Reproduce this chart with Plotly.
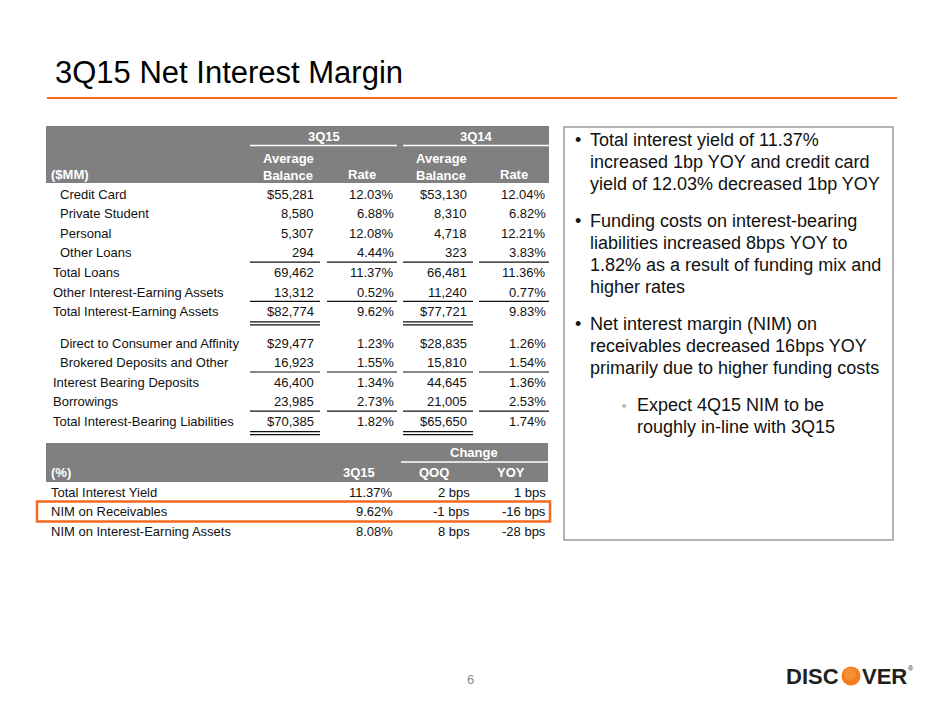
import plotly.graph_objects as go

FONT = "Liberation Sans, Arial, Helvetica, sans-serif"
ORANGE = "#f46a1f"
HEAD_GRAY = "#808080"
INK = "#111111"

title = "3Q15 Net Interest Margin"
page_no = "6"

# interest-earning assets ($MM, %)
asset_labels = ["Credit Card", "Private Student", "Personal", "Other Loans",
                "Total Loans", "Other Interest-Earning Assets",
                "Total Interest-Earning Assets"]
asset_indent = [True, True, True, True, False, False, False]
asset_bal_3q15 = [55281, 8580, 5307, 294, 69462, 13312, 82774]
asset_rate_3q15 = [12.03, 6.88, 12.08, 4.44, 11.37, 0.52, 9.62]
asset_bal_3q14 = [53130, 8310, 4718, 323, 66481, 11240, 77721]
asset_rate_3q14 = [12.04, 6.82, 12.21, 3.83, 11.36, 0.77, 9.83]
asset_dollar = [True, False, False, False, False, False, True]

# interest-bearing liabilities ($MM, %)
liab_labels = ["Direct to Consumer and Affinity", "Brokered Deposits and Other",
               "Interest Bearing Deposits", "Borrowings",
               "Total Interest-Bearing Liabilities"]
liab_indent = [True, True, False, False, False]
liab_bal_3q15 = [29477, 16923, 46400, 23985, 70385]
liab_rate_3q15 = [1.23, 1.55, 1.34, 2.73, 1.82]
liab_bal_3q14 = [28835, 15810, 44645, 21005, 65650]
liab_rate_3q14 = [1.26, 1.54, 1.36, 2.53, 1.74]
liab_dollar = [True, False, False, False, True]

# margin table (%, bps)
margin_labels = ["Total Interest Yield", "NIM on Receivables",
                 "NIM on Interest-Earning Assets"]
margin_3q15 = [11.37, 9.62, 8.08]
margin_qoq = [2, -1, 8]
margin_yoy = [1, -16, -28]
highlight_row = 1

periods = ["3Q15", "3Q14"]
sub_heads = ["Average<br>Balance", "Rate", "Average<br>Balance", "Rate"]
margin_heads = ["3Q15", "QOQ", "YOY"]

bullets = [
    ["Total interest yield of 11.37%", "increased 1bp YOY and credit card",
     "yield of 12.03% decreased 1bp YOY"],
    ["Funding costs on interest-bearing", "liabilities increased 8bps YOY to",
     "1.82% as a result of funding mix and", "higher rates"],
    ["Net interest margin (NIM) on", "receivables decreased 16bps YOY",
     "primarily due to higher funding costs"],
]
sub_bullet = ["Expect 4Q15 NIM to be", "roughly in-line with 3Q15"]

# ---- layout geometry (pixels) ----
TBL_L, TBL_R = 46, 549
cols = [(250, 320, 316), (327, 397, 396), (403, 473, 469), (479, 549, 548)]
ROW = 19.6
asset_y0 = 194
liab_y0 = 343

ann = []
shapes = []


def txt(x, y, s, size=13, color=INK, xanchor="left", bold=False, align="left"):
    if bold:
        s = "<b>" + s + "</b>"
    ann.append(dict(x=x, y=y, xref="x", yref="y", text=s, showarrow=False,
                    xanchor=xanchor, yanchor="middle", align=align,
                    font=dict(family=FONT, size=size, color=color)))


def hline(x0, x1, y, color=INK, w=1.2):
    shapes.append(dict(type="line", xref="x", yref="y", x0=x0, x1=x1, y0=y, y1=y,
                       line=dict(color=color, width=w)))


def rect(x0, y0, x1, y1, fill=None, line=None, w=0):
    shapes.append(dict(type="rect", xref="x", yref="y", x0=x0, x1=x1, y0=y0, y1=y1,
                       fillcolor=fill or "rgba(0,0,0,0)",
                       line=dict(color=line or "rgba(0,0,0,0)", width=w), layer="below"))


def money(v, dollar):
    return ("$" if dollar else "") + f"{v:,}"


# title and rule
txt(53, 72, title, size=31, color="#000000")
hline(47, 897, 98, color=ORANGE, w=2)

# header of balance table
rect(TBL_L, 126, TBL_R, 183, fill=HEAD_GRAY)
for i, p in enumerate(periods):
    a, b = cols[2 * i][0], cols[2 * i + 1][1]
    txt((a + b) / 2, 136, p, color="white", xanchor="center", bold=True)
    hline(a, b, 145.5, color="white", w=1.5)
txt(49, 174, "($MM)", color="white", bold=True)
for c, h in zip(cols, sub_heads):
    if "<br>" in h:
        txt(c[0] + 11, 167, h, color="white", bold=True)
    else:
        txt((c[0] + c[1]) / 2, 174, h, color="white", xanchor="center", bold=True)


def section(y0, labels, indent, b15, r15, b14, r14, dollar, singles, double):
    for i, lab in enumerate(labels):
        y = y0 + i * ROW
        txt(58 if indent[i] else 51, y, lab)
        vals = [money(b15[i], dollar[i]), f"{r15[i]:.2f}%",
                money(b14[i], dollar[i]), f"{r14[i]:.2f}%"]
        for c, v in zip(cols, vals):
            txt(c[2], y, v, xanchor="right")
    for i in singles:
        for c in cols:
            hline(c[0], c[1], y0 + i * ROW + 9.4)
    for c in (cols[0], cols[2]):
        hline(c[0], c[1], y0 + double * ROW + 10.2)
        hline(c[0], c[1], y0 + double * ROW + 13.2)


section(asset_y0, asset_labels, asset_indent, asset_bal_3q15, asset_rate_3q15,
        asset_bal_3q14, asset_rate_3q14, asset_dollar, [3, 5], 6)
section(liab_y0, liab_labels, liab_indent, liab_bal_3q15, liab_rate_3q15,
        liab_bal_3q14, liab_rate_3q14, liab_dollar, [1, 3], 4)

# margin table
rect(TBL_L, 443, 548, 482, fill=HEAD_GRAY)
txt(474, 452.5, "Change", color="white", xanchor="center", bold=True)
hline(401, 548, 462, color="white", w=1.5)
txt(49, 472, "(%)", color="white", bold=True)
mcols = [(327, 395), (401, 471.5), (478, 548)]
for (a, r), h in zip(mcols, margin_heads):
    txt((a + r) / 2 - 2, 472, h, color="white", xanchor="center", bold=True)
m_y0 = 492
for i, lab in enumerate(margin_labels):
    y = m_y0 + i * ROW
    txt(49, y, lab)
    vals = [f"{margin_3q15[i]:.2f}%", f"{margin_qoq[i]} bps", f"{margin_yoy[i]} bps"]
    for (a, r), v in zip(mcols, vals):
        txt(r, y, v, xanchor="right")
hy = m_y0 + highlight_row * ROW
shapes.append(dict(type="rect", xref="x", yref="y", x0=37, x1=550, y0=hy - 10, y1=hy + 10,
                   line=dict(color=ORANGE, width=2.5), fillcolor="rgba(0,0,0,0)"))

# commentary box
rect(564, 127, 893, 540, line="#9a9a9a", w=1.5)
y = 140
for para in bullets:
    txt(573, y, "•", size=18)
    for line in para:
        txt(588, y, line, size=18)
        y += 22
    y += 15
txt(620, y, "◦", size=13)
for line in sub_bullet:
    txt(635, y, line, size=18)
    y += 22

# footer
txt(470, 679, page_no, size=13, color="#8c8c8c", xanchor="center")
txt(841, 676, "<b>DISC</b>", size=22, color="#231f20", xanchor="right")
shapes.append(dict(type="circle", xref="x", yref="y", x0=841.5, x1=860.5, y0=666.5, y1=685.5,
                   fillcolor="#f47b20", line=dict(width=0)))
shapes.append(dict(type="circle", xref="x", yref="y", x0=844, x1=856, y0=668, y1=680,
                   fillcolor="#f9a03c", line=dict(width=0), opacity=0.6))
txt(860, 676, "<b>VER</b>", size=22, color="#231f20")
txt(906, 668, "®", size=7, color="#231f20")

fig = go.Figure()
fig.add_trace(go.Scatter(x=[0, 940], y=[0, 705], mode="markers",
                         marker=dict(opacity=0), hoverinfo="skip", showlegend=False))
fig.update_layout(
    width=940, height=705, margin=dict(l=0, r=0, t=0, b=0),
    paper_bgcolor="white", plot_bgcolor="white",
    xaxis=dict(range=[0, 940], visible=False, fixedrange=True),
    yaxis=dict(range=[705, 0], visible=False, fixedrange=True),
    annotations=ann, shapes=shapes, showlegend=False,
)
fig.write_html("out.html", config={"displayModeBar": False},
               post_script="document.body.style.margin='0';")
